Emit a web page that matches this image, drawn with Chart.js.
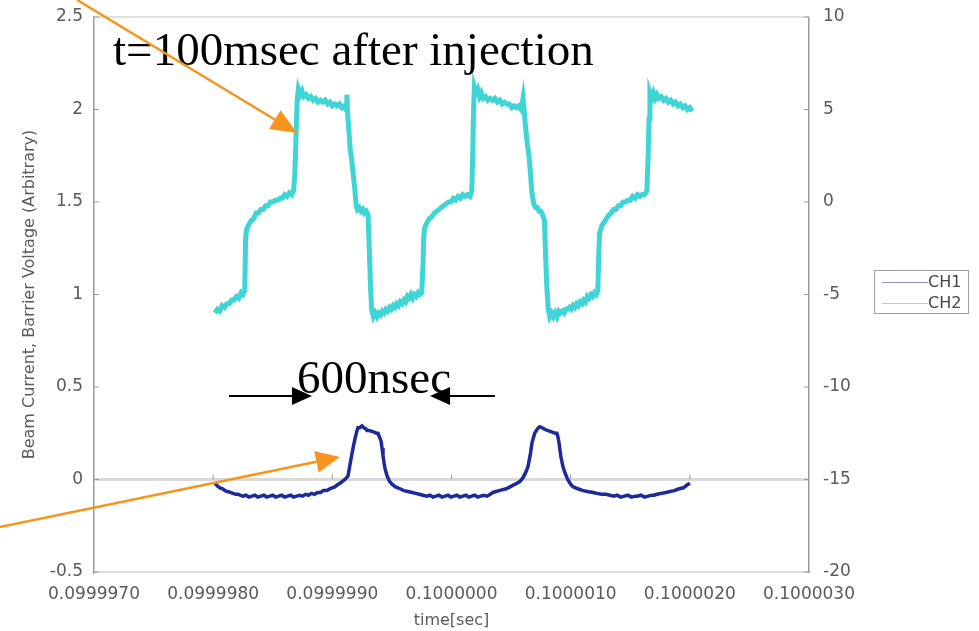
<!doctype html>
<html lang="en">
<head>
<meta charset="utf-8">
<title>Beam current and barrier voltage</title>
<script src="https://cdn.jsdelivr.net/npm/chart.js"></script>
<style>
  html, body { margin: 0; padding: 0; background: #fff; }
  #wrap { width: 979px; height: 631px; position: relative; }
</style>
</head>
<body>
<div id="wrap"><canvas id="scope"></canvas></div>
<script>
// time is kept in ns relative to t = 0.1 s, labels are printed in seconds
const xTicks = [-3000, -2000, -1000, 0, 1000, 2000, 3000];
const leftTicks = [-0.5, 0, 0.5, 1, 1.5, 2, 2.5];
const rightTicks = [-20, -15, -10, -5, 0, 5, 10];
const seriesNames = ['CH1', 'CH2'];

// CH1 : beam current (left axis)
const ch1Time = [-1985,-1965,-1943,-1920,-1901,-1880,-1855,-1834,-1810,-1790,-1775,-1750,-1725,-1700,-1675,-1650,-1625,-1600,-1575,-1550,-1525,-1500,-1475,-1450,-1425,-1400,-1375,-1350,-1325,-1300,-1275,-1250,-1225,-1200,-1175,-1150,-1125,-1100,-1075,-1045,-1020,-1003,-980,-960,-936,-915,-894,-880,-868,-852,-835,-820,-810,-795,-785,-770,-751,-735,-720,-709,-690,-667,-645,-630,-617,-605,-592,-583,-575,-566,-558,-541,-520,-499,-470,-432,-400,-365,-331,-300,-270,-240,-206,-180,-155,-130,-105,-80,-55,-30,-5,20,45,70,95,120,145,170,195,220,245,270,298,325,348,375,400,430,460,491,520,550,575,600,617,630,642,660,676,698,718,730,743,760,785,805,827,850,870,885,893,902,910,919,935,953,975,1000,1020,1060,1104,1140,1188,1220,1260,1295,1330,1360,1390,1420,1450,1480,1510,1540,1557,1590,1620,1650,1680,1700,1724,1760,1800,1833,1870,1910,1947,1975,2001];
const ch1Val = [-0.02,-0.035,-0.045,-0.05,-0.06,-0.065,-0.07,-0.075,-0.08,-0.08,-0.085,-0.09,-0.085,-0.095,-0.09,-0.085,-0.095,-0.09,-0.085,-0.095,-0.09,-0.085,-0.095,-0.09,-0.085,-0.095,-0.09,-0.085,-0.095,-0.09,-0.085,-0.09,-0.08,-0.085,-0.075,-0.08,-0.07,-0.07,-0.06,-0.06,-0.05,-0.045,-0.04,-0.03,-0.02,-0.01,0.0,0.01,0.02,0.08,0.14,0.19,0.22,0.26,0.28,0.28,0.29,0.28,0.275,0.265,0.265,0.26,0.255,0.25,0.25,0.23,0.21,0.17,0.13,0.09,0.06,0.02,-0.01,-0.025,-0.04,-0.05,-0.06,-0.065,-0.07,-0.075,-0.08,-0.085,-0.09,-0.085,-0.095,-0.09,-0.085,-0.095,-0.09,-0.085,-0.095,-0.09,-0.085,-0.095,-0.09,-0.085,-0.095,-0.09,-0.085,-0.095,-0.09,-0.085,-0.09,-0.08,-0.07,-0.065,-0.06,-0.055,-0.05,-0.04,-0.03,-0.02,-0.01,0.01,0.03,0.05,0.07,0.13,0.2,0.25,0.27,0.28,0.285,0.28,0.27,0.265,0.26,0.255,0.25,0.25,0.23,0.2,0.16,0.12,0.07,0.035,0.0,-0.025,-0.04,-0.05,-0.06,-0.065,-0.07,-0.075,-0.08,-0.08,-0.085,-0.09,-0.085,-0.095,-0.09,-0.085,-0.095,-0.09,-0.09,-0.085,-0.095,-0.09,-0.085,-0.085,-0.08,-0.075,-0.07,-0.065,-0.06,-0.05,-0.045,-0.03,-0.02];

// CH2 : barrier voltage (right axis)
const ch2Time = [-1985,-1965,-1945,-1925,-1905,-1885,-1865,-1845,-1825,-1805,-1785,-1765,-1750,-1735,-1728,-1720,-1700,-1680,-1660,-1640,-1620,-1600,-1580,-1560,-1540,-1520,-1500,-1480,-1460,-1440,-1420,-1400,-1380,-1360,-1340,-1325,-1315,-1305,-1295,-1285,-1270,-1255,-1240,-1220,-1200,-1180,-1160,-1140,-1120,-1100,-1080,-1060,-1040,-1020,-1000,-980,-960,-940,-920,-900,-885,-878,-870,-860,-850,-840,-830,-820,-810,-800,-790,-775,-760,-745,-730,-715,-700,-690,-680,-670,-655,-640,-625,-610,-595,-580,-565,-550,-535,-520,-505,-490,-475,-460,-445,-430,-415,-400,-385,-370,-355,-340,-325,-310,-295,-280,-265,-250,-240,-232,-225,-205,-185,-165,-145,-125,-105,-85,-65,-45,-25,-5,15,35,55,75,95,115,135,155,170,178,185,192,205,220,235,250,265,285,305,325,345,365,385,405,425,445,465,485,505,525,545,565,585,600,610,622,635,650,662,675,690,705,720,735,750,765,780,790,800,812,825,840,855,870,885,900,915,930,945,960,975,990,1005,1020,1035,1050,1065,1080,1095,1110,1125,1140,1155,1170,1185,1200,1215,1228,1235,1242,1260,1280,1300,1320,1340,1360,1380,1400,1420,1440,1460,1480,1500,1520,1540,1560,1580,1600,1620,1640,1650,1658,1665,1680,1695,1710,1725,1740,1760,1780,1800,1820,1840,1860,1880,1900,1920,1940,1960,1980,2000,2018];
const ch2Val = [-6.0,-5.8,-5.9,-5.6,-5.7,-5.5,-5.5,-5.3,-5.3,-5.1,-5.2,-4.9,-5.0,-4.8,-2.0,-1.5,-1.2,-1.0,-0.9,-0.6,-0.6,-0.4,-0.4,-0.2,-0.2,0.0,0.0,0.1,0.1,0.2,0.2,0.4,0.3,0.5,0.4,0.6,1.5,3.5,5.5,6.1,5.8,6.0,5.7,5.8,5.6,5.7,5.5,5.6,5.4,5.5,5.4,5.5,5.3,5.4,5.2,5.3,5.2,5.3,5.1,5.2,5.0,5.8,4.6,3.8,2.8,2.4,1.8,1.2,0.6,-0.2,-0.4,-0.3,-0.5,-0.4,-0.6,-0.5,-0.7,-2.5,-4.5,-5.8,-6.2,-6.0,-6.2,-6.0,-6.1,-5.9,-6.0,-5.8,-5.9,-5.7,-5.8,-5.6,-5.7,-5.5,-5.6,-5.4,-5.5,-5.3,-5.4,-5.1,-5.2,-5.0,-5.2,-5.0,-5.1,-4.9,-5.0,-4.9,-3.5,-1.8,-1.4,-1.1,-0.9,-0.8,-0.6,-0.5,-0.4,-0.3,-0.2,-0.1,0.0,0.0,0.2,0.1,0.3,0.2,0.4,0.3,0.4,0.3,0.6,2.5,5.0,6.2,5.9,6.1,5.7,5.9,5.6,5.7,5.5,5.6,5.5,5.6,5.4,5.5,5.3,5.4,5.3,5.3,5.1,5.2,5.1,5.2,5.0,5.6,4.9,4.0,3.2,2.5,1.6,0.5,-0.1,-0.3,-0.3,-0.5,-0.5,-0.7,-1.0,-3.0,-4.6,-5.8,-6.2,-6.0,-6.2,-6.0,-6.2,-5.9,-6.0,-5.9,-6.0,-5.8,-5.8,-5.7,-5.8,-5.6,-5.7,-5.5,-5.6,-5.4,-5.5,-5.3,-5.4,-5.1,-5.2,-5.0,-5.1,-4.9,-5.0,-4.8,-3.0,-1.7,-1.3,-1.1,-0.9,-0.7,-0.6,-0.4,-0.4,-0.2,-0.2,0.0,0.0,0.1,0.1,0.3,0.2,0.4,0.3,0.4,0.4,0.6,2.5,4.5,5.9,5.6,5.9,5.6,5.8,5.6,5.7,5.5,5.6,5.4,5.5,5.3,5.4,5.2,5.3,5.1,5.2,5.0,5.1,4.9];

const ch1Color = '#1c2a9c';
const ch2Color = '#3fd4d6';
const orange = '#f7941d';

function toPoints(ts, vs) {
  return ts.map((t, i) => ({ x: t, y: vs[i] }));
}

// keep the plot box fixed: no extra room for half tick labels
function noPad(s) {
  s.paddingTop = 0; s.paddingBottom = 0;
  s.paddingLeft = 0; s.paddingRight = 0;
}

// decorations: frame top line, inner tick marks, annotations, legend
const decor = {
  id: 'decor',
  beforeDatasetsDraw(chart) {
    const { ctx, chartArea: a, scales } = chart;
    ctx.save();
    ctx.strokeStyle = '#e0e0e0';
    ctx.lineWidth = 2;
    ctx.beginPath();
    ctx.moveTo(a.left, a.top);
    ctx.lineTo(a.right, a.top);
    ctx.stroke();

    ctx.strokeStyle = '#9a9a9a';
    ctx.lineWidth = 1;
    ctx.beginPath();
    leftTicks.forEach(v => {
      const y = scales.y.getPixelForValue(v);
      ctx.moveTo(a.left, y); ctx.lineTo(a.left + 5, y);
    });
    rightTicks.forEach(v => {
      const y = scales.y2.getPixelForValue(v);
      ctx.moveTo(a.right, y); ctx.lineTo(a.right - 5, y);
    });
    const y0 = scales.y.getPixelForValue(0);
    xTicks.slice(1, -1).forEach(v => {
      const x = scales.x.getPixelForValue(v);
      ctx.moveTo(x, y0); ctx.lineTo(x, y0 - 5);
    });
    ctx.stroke();
    ctx.restore();
  },
  afterDraw(chart) {
    const { ctx, scales } = chart;
    const px = v => scales.x.getPixelForValue(v);
    const py = v => scales.y.getPixelForValue(v);
    ctx.save();

    function arrow(x1, y1, x2, y2, color, lw, len, half) {
      const ang = Math.atan2(y2 - y1, x2 - x1);
      const bx = x2 - len * Math.cos(ang), by = y2 - len * Math.sin(ang);
      ctx.strokeStyle = color; ctx.fillStyle = color; ctx.lineWidth = lw;
      ctx.beginPath(); ctx.moveTo(x1, y1); ctx.lineTo(bx, by); ctx.stroke();
      ctx.beginPath();
      ctx.moveTo(x2, y2);
      ctx.lineTo(bx + half * Math.sin(ang), by - half * Math.cos(ang));
      ctx.lineTo(bx - half * Math.sin(ang), by + half * Math.cos(ang));
      ctx.closePath(); ctx.fill();
    }

    ctx.font = '47px "Liberation Serif", "Times New Roman", serif';
    ctx.fillStyle = '#000';
    ctx.textBaseline = 'alphabetic';
    ctx.fillText('t=100msec after injection', px(-2840), py(2.24));
    ctx.fillText('600nsec', px(-1296), py(0.468));

    arrow(px(-1867), py(0.451), px(-1171), py(0.451), '#000', 2, 20, 9);
    arrow(px(365), py(0.451), px(-180), py(0.451), '#000', 2, 20, 9);

    arrow(px(-3142), py(2.592), px(-1296), py(1.873), orange, 2.5, 26, 11);
    arrow(px(-3789), py(-0.257), px(-936), py(0.122), orange, 2.5, 24, 11);

    // legend box
    const lx = 874, ly = 270, lw = 94, lh = 43;
    ctx.fillStyle = '#fff';
    ctx.fillRect(lx, ly, lw, lh);
    ctx.strokeStyle = '#a0a0a0'; ctx.lineWidth = 1;
    ctx.strokeRect(lx + 0.5, ly + 0.5, lw, lh);
    ctx.font = '16px "DejaVu Sans", sans-serif';
    ctx.textBaseline = 'middle';
    const legendLines = ['#8f8fd4', '#8fe2e2'];
    chart.data.datasets.forEach((ds, i) => {
      const yy = ly + 12 + i * 21;
      ctx.strokeStyle = legendLines[i]; ctx.lineWidth = 1;
      ctx.beginPath(); ctx.moveTo(lx + 8, yy + 0.5); ctx.lineTo(lx + 54, yy + 0.5); ctx.stroke();
      ctx.fillStyle = '#444';
      ctx.fillText(ds.label, lx + 54, yy + 1);
    });
    ctx.restore();
  }
};

const tickFont = { family: '"DejaVu Sans", sans-serif', size: 17 };

new Chart(document.getElementById('scope'), {
  type: 'line',
  data: {
    datasets: [
      {
        label: seriesNames[0],
        data: toPoints(ch1Time, ch1Val),
        yAxisID: 'y',
        borderColor: ch1Color,
        borderWidth: 3.5,
        pointRadius: 0,
        tension: 0
      },
      {
        label: seriesNames[1],
        data: toPoints(ch2Time, ch2Val),
        yAxisID: 'y2',
        borderColor: ch2Color,
        borderWidth: 5,
        pointRadius: 0,
        tension: 0
      }
    ]
  },
  options: {
    responsive: true,
    maintainAspectRatio: false,
    animation: false,
    layout: { padding: { top: 17, left: 0, right: 0, bottom: 0 } },
    plugins: { legend: { display: false }, tooltip: { enabled: false } },
    scales: {
      x: {
        type: 'linear',
        min: -3000, max: 3000,
        afterBuildTicks: s => { s.ticks = xTicks.map(v => ({ value: v })); },
        afterFit: s => { s.height = 59; noPad(s); },
        ticks: {
          padding: 12,
          color: '#5a5a5a',
          font: tickFont,
          maxRotation: 0,
          callback: v => (0.1 + v * 1e-9).toFixed(7)
        },
        grid: { color: 'rgba(0,0,0,0)', drawTicks: false },
        border: { color: '#dcdcdc', width: 2 },
        title: {
          display: true,
          text: 'time[sec]',
          color: '#5a5a5a',
          font: { family: '"DejaVu Sans", sans-serif', size: 16 },
          padding: { top: 0, bottom: 1 }
        }
      },
      y: {
        position: 'left',
        min: -0.5, max: 2.5,
        afterBuildTicks: s => { s.ticks = leftTicks.map(v => ({ value: v })); },
        afterFit: s => { s.width = 94; noPad(s); },
        ticks: { padding: 11, color: '#5a5a5a', font: tickFont, callback: v => String(v) },
        grid: {
          drawTicks: false,
          color: c => (c.tick && c.tick.value === 0 ? '#d9d9d9' : 'rgba(0,0,0,0)'),
          lineWidth: 3
        },
        border: { color: '#9a9a9a', width: 1.5 },
        title: {
          display: true,
          text: 'Beam Current, Barrier Voltage (Arbitrary)',
          color: '#5a5a5a',
          font: { family: '"DejaVu Sans", sans-serif', size: 16 },
          padding: { top: 20, bottom: 0 }
        }
      },
      y2: {
        position: 'right',
        min: -20, max: 10,
        afterBuildTicks: s => { s.ticks = rightTicks.map(v => ({ value: v })); },
        afterFit: s => { s.width = 170; noPad(s); },
        ticks: { padding: 14, color: '#5a5a5a', font: tickFont, callback: v => String(v) },
        grid: { drawOnChartArea: false, drawTicks: false },
        border: { color: '#9a9a9a', width: 1.5 }
      }
    }
  },
  plugins: [decor]
});
</script>
</body>
</html>
